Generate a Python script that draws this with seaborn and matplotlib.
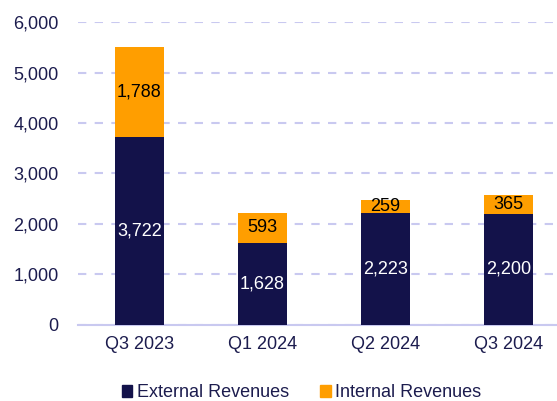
import matplotlib
matplotlib.use("Agg")
import matplotlib.pyplot as plt
import seaborn as sns
import pandas as pd
from matplotlib.patches import Patch

quarters = ["Q3 2023", "Q1 2024", "Q2 2024", "Q3 2024"]
external = [3722, 1628, 2223, 2200]
internal = [1788, 593, 259, 365]

NAVY = "#13124a"
ORANGE = "#ff9e00"
TEXT = "#1c1c4e"
GRID = "#c9c9f0"

sns.set_theme(style="white")
plt.rcParams["font.family"] = ["Liberation Sans", "DejaVu Sans"]

df = pd.DataFrame({"Quarter": quarters, "External": external, "Internal": internal})
df["Total"] = df["External"] + df["Internal"]

fig = plt.figure(figsize=(5.57, 4.01), dpi=100)
# axes runs a bit past the right edge, like the original
ax = fig.add_axes([0.14, 0.19, 0.883, 0.755])

sns.barplot(data=df, x="Quarter", y="Total", color=ORANGE, width=0.4,
            saturation=1, linewidth=0, ax=ax, zorder=3)
sns.barplot(data=df, x="Quarter", y="External", color=NAVY, width=0.4,
            saturation=1, linewidth=0, ax=ax, zorder=4)

for i, row in df.iterrows():
    ax.text(i, row["External"] / 2, f"{row['External']:,}", ha="center", va="center",
            color="white", fontsize=13, zorder=5)
    ax.text(i, row["External"] + row["Internal"] / 2, f"{row['Internal']:,}",
            ha="center", va="center", color="black", fontsize=13, zorder=5)

ax.set_ylim(0, 6000)
ax.set_yticks(range(0, 6001, 1000))
ax.set_yticklabels([f"{v:,}" for v in range(0, 6001, 1000)])
ax.set_xlim(-0.5, 3.5)
ax.yaxis.grid(True, color=GRID, linestyle=(0, (4, 4)), linewidth=1.5, zorder=0)
ax.set_axisbelow(True)
ax.set_xlabel("")
ax.set_ylabel("")
ax.tick_params(axis="both", labelsize=13, colors=TEXT, length=0)
ax.tick_params(axis="y", pad=14)
ax.tick_params(axis="x", pad=8)
for s in ["top", "right", "left"]:
    ax.spines[s].set_visible(False)
ax.spines["bottom"].set_color(GRID)
ax.spines["bottom"].set_linewidth(1.5)

handles = [Patch(color=NAVY, label="External Revenues"),
           Patch(color=ORANGE, label="Internal Revenues")]
fig.legend(handles=handles, loc="center", bbox_to_anchor=(0.541, 0.02), ncol=2,
           frameon=False, fontsize=13, handlelength=0.6, handleheight=0.6,
           handletextpad=0.25, columnspacing=1.7, labelcolor=TEXT)

fig.savefig("out.png", dpi=100)
